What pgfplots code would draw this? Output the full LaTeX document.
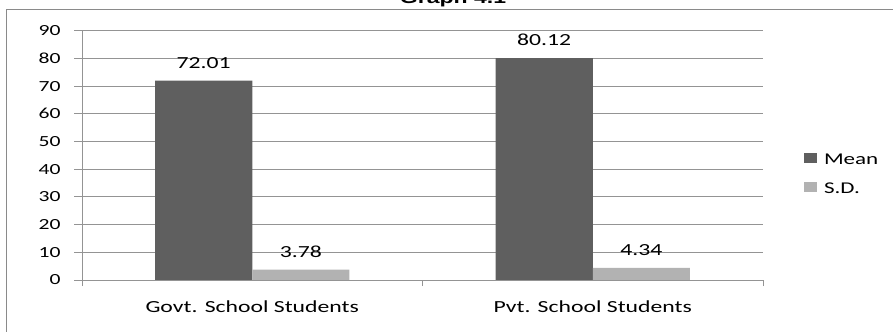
\documentclass[border=0pt]{standalone}
\usepackage{pgfplots}
\pgfplotsset{compat=1.18}
\usepackage{fontspec}
\setmainfont{Carlito}[FakeStretch=1.4]
\newfontfamily\titlefont{Liberation Sans}[FakeStretch=1.4]

\definecolor{meancol}{HTML}{5F5F5F}
\definecolor{sdcol}{HTML}{B2B2B2}
\definecolor{gridcol}{HTML}{949494}
\definecolor{framecol}{HTML}{8A8A8A}

\begin{document}
\begin{tikzpicture}
\useasboundingbox (0bp,0bp) rectangle (893bp,332bp);
\clip (0bp,0bp) rectangle (893bp,332bp);
% outer chart frame
\draw[framecol, line width=1.3bp] (6.5bp,-5bp) -- (6.5bp,322.5bp) -- (900bp,322.5bp);
\node[anchor=base, font=\titlefont\bfseries\fontsize{16.5}{18}\selectfont] at (453bp,328.2bp) {Graph 4.1};
\begin{axis}[
  at={(82bp,52bp)}, anchor=south west,
  scale only axis, width=681bp, height=249.3bp,
  xmin=-0.5, xmax=1.5, ymin=0, ymax=90,
  ytick={0,10,...,90},
  xtick={0,1},
  xticklabels={Govt. School Students, Pvt. School Students},
  minor xtick={-0.5,0.5,1.5},
  axis x line*=bottom, axis y line*=left,
  axis line style={-, gridcol, line width=0.9bp},
  ymajorgrids,
  grid style={gridcol, line width=0.9bp},
  tick align=outside,
  major tick length=8bp, minor tick length=6bp,
  major x tick style={draw=none},
  minor x tick style={gridcol, line width=0.9bp},
  y tick style={gridcol, line width=0.9bp},
  /pgf/number format/assume math mode=true,
  yticklabel style={font=\fontsize{15.5}{17}\selectfont, xshift=-10bp},
  xticklabel style={font=\fontsize{17}{19}\selectfont, yshift=-9bp},
  ybar, bar width=0.285,
  nodes near coords={\pgfmathprintnumber[fixed,fixed zerofill,precision=2]{\pgfplotspointmeta}},
  nodes near coords style={anchor=base, yshift=12.5bp, font=\fontsize{17}{19}\selectfont, text=black},
  legend style={at={(1.06,0.422)}, anchor=west, draw=none, fill=none,
    inner sep=0pt, row sep=13bp, font=\fontsize{16.5}{18}\selectfont,
    nodes={inner sep=2bp},
    /tikz/every odd column/.append style={column sep=5bp}},
  legend cell align=left,
  legend image code/.code={\fill[#1] (0bp,-2.5bp) rectangle (13bp,7.5bp);},
]
\addplot[fill=meancol, draw=none, bar shift=-0.1425] coordinates {(0,72.01) (1,80.12)};
\addlegendentry{Mean}
\addplot[fill=sdcol, draw=none, bar shift=0.1425] coordinates {(0,3.78) (1,4.34)};
\addlegendentry{S.D.}
\end{axis}
\end{tikzpicture}
\end{document}
